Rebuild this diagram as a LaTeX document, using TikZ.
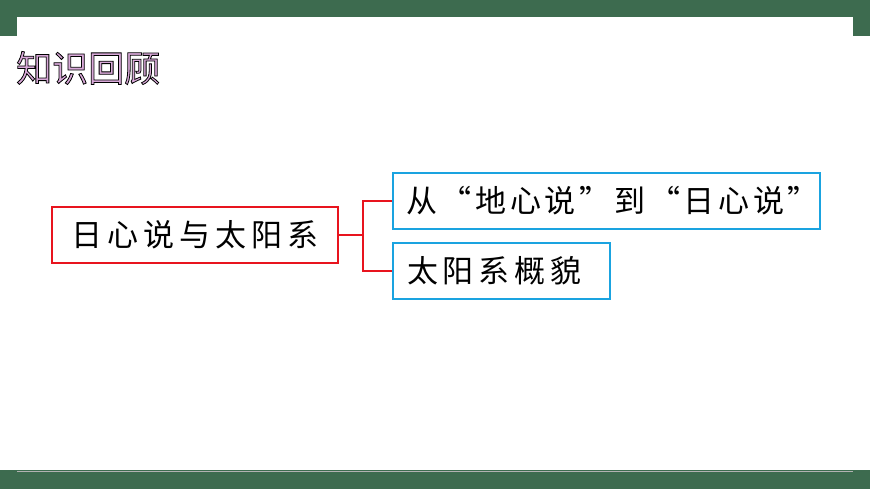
\documentclass[tikz,border=0pt]{standalone}
\usepackage{fontspec}
\newfontfamily\cjk[LetterSpace=16]{Noto Sans CJK SC}
\newfontfamily\cjknarrow[LetterSpace=12]{Noto Sans CJK SC}
\newfontfamily\cjktitle[BoldFont=*]{Noto Sans CJK SC}
\definecolor{bargreen}{HTML}{3D6B4F}
\definecolor{boxred}{HTML}{E8141E}
\definecolor{boxblue}{HTML}{1AA3E0}
\definecolor{titlepink}{HTML}{D8A8D8}
\newcommand{\outlinetext}[1]{\special{pdf:literal direct 2 Tr 0 0 0 RG 0.8 w}#1\special{pdf:literal direct 0 Tr}}
\tikzset{
  redbox/.style={draw=boxred, line width=1.5pt, minimum height=56pt, inner sep=0pt, font=\cjk\fontsize{31}{33}\selectfont},
  bluebox/.style={draw=boxblue, line width=1.8pt, minimum height=56pt, inner sep=0pt, font=\cjk\fontsize{31}{33}\selectfont},
  link/.style={draw=boxred, line width=1.5pt}
}
\begin{document}
\begin{tikzpicture}[x=1pt,y=-1pt]
\useasboundingbox (0,0) rectangle (870,489);
% top bar
\fill[bargreen] (0,0) rectangle (870,17);
\fill[bargreen] (0,0) rectangle (17,36);
\fill[bargreen] (853,0) rectangle (870,36);
% bottom bar
\fill[bargreen] (0,470) rectangle (870,489);
\draw[gray!60, line width=1pt] (17,471) -- (853,471);
\fill[bargreen] (17,472) rectangle (853,489);
% title
\node[anchor=west, inner sep=0pt, text=titlepink, font=\cjktitle\bfseries\fontsize{36}{38}\selectfont] (title) at (16,68) {\outlinetext{知识回顾}};
% boxes
\node[redbox, minimum width=286pt, font=\cjk\fontsize{31}{33}\selectfont] (main) at (195,235) {日心说与太阳系};
\node[bluebox, minimum width=427pt, text width=401pt, align=left, font=\cjknarrow\fontsize{31}{33}\selectfont] (b1) at (606.5,201) {从“地心说”到“日心说”};
\node[bluebox, minimum width=217pt, text width=189pt, align=left] (b2) at (501.5,271) {太阳系概貌};
\coordinate (j) at (363,235);
\draw[link] (main.east) -- (j) |- (b1.west);
\draw[link] (j) |- (b2.west);
\end{tikzpicture}
\end{document}
